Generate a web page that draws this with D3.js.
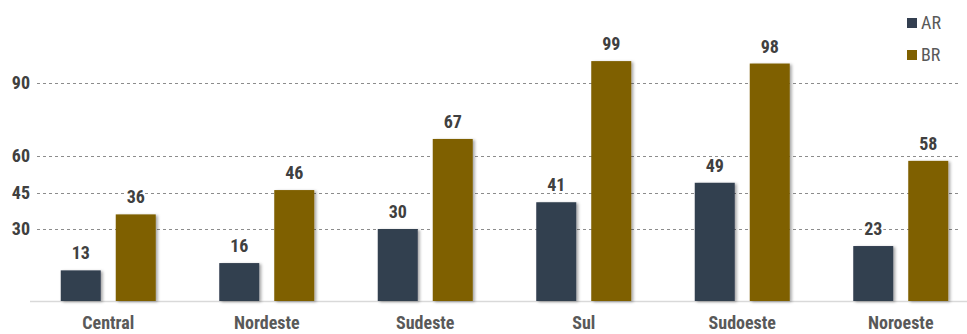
<!DOCTYPE html>
<html><head><meta charset="utf-8">
<script src="https://cdn.jsdelivr.net/npm/d3@7"></script>
<style>
body{margin:0;background:#fff;}
text{font-family:"Liberation Sans Narrow","Roboto Condensed","Arial Narrow","DejaVu Sans Condensed",sans-serif;}
</style></head>
<body><svg id="c" width="967" height="334"></svg>
<script>
const categories = ["Central","Nordeste","Sudeste","Sul","Sudoeste","Noroeste"];
const seriesNames = ["AR","BR"];
const arValues = [13,16,30,41,49,23];
const brValues = [36,46,67,99,98,58];
const yTicks = [30,45,60,90];
const colors = {AR:"#333f50", BR:"#7f6000"};

const svg = d3.select("#c");
const defs = svg.append("defs");
const f = defs.append("filter").attr("id","sh").attr("x","-20%").attr("y","-20%").attr("width","150%").attr("height","150%");
f.append("feDropShadow").attr("dx",2).attr("dy",1).attr("stdDeviation",1.5).attr("flood-color","#000").attr("flood-opacity",0.35);

const x = d3.scaleBand().domain(categories).range([29,980]).paddingInner(0).paddingOuter(0);
const sub = d3.scaleBand().domain(seriesNames).range([x.bandwidth()/2-47.5, x.bandwidth()/2+47.5]).paddingInner(15/55).paddingOuter(0);
const y = d3.scaleLinear().domain([0,30]).range([302,229]);

// gridlines
svg.append("g").selectAll("line").data(yTicks).join("line")
  .attr("x1",37).attr("x2",960).attr("y1",d=>Math.round(y(d))+0.5).attr("y2",d=>Math.round(y(d))+0.5)
  .attr("stroke","#8c8c8c").attr("stroke-width",1).attr("stroke-dasharray","3,3");
svg.append("g").selectAll("text").data(yTicks).join("text")
  .attr("x",30).attr("y",d=>y(d)).attr("dy","0.35em").attr("text-anchor","end")
  .attr("font-size",18).attr("font-weight","bold").attr("fill","#404040").text(d=>d);

// baseline
svg.append("line").attr("x1",30).attr("x2",967).attr("y1",301.5).attr("y2",301.5)
  .attr("stroke","#d9d9d9").attr("stroke-width",1.5);

const data = categories.map((c,i)=>({cat:c, vals:[{k:"AR",v:arValues[i]},{k:"BR",v:brValues[i]}]}));
const g = svg.append("g").selectAll("g").data(data).join("g").attr("transform",d=>`translate(${x(d.cat)},0)`);
g.selectAll("rect").data(d=>d.vals).join("rect")
  .attr("x",d=>sub(d.k)).attr("width",sub.bandwidth())
  .attr("y",d=>y(d.v)).attr("height",d=>y(0)-1-y(d.v))
  .attr("fill",d=>colors[d.k]).attr("filter","url(#sh)");
g.selectAll("text").data(d=>d.vals).join("text")
  .attr("x",d=>sub(d.k)+sub.bandwidth()/2).attr("y",d=>y(d.v)-11)
  .attr("text-anchor","middle").attr("font-size",18).attr("font-weight","bold").attr("fill","#404040")
  .attr("stroke","#fff").attr("stroke-width",4).attr("paint-order","stroke")
  .text(d=>d.v);

// x labels
svg.append("g").selectAll("text").data(categories).join("text")
  .attr("x",d=>x(d)+x.bandwidth()/2).attr("y",323).attr("dy","0.35em").attr("text-anchor","middle")
  .attr("font-size",18).attr("font-weight","bold").attr("fill","#595959").text(d=>d);

// legend
const lg = svg.append("g").selectAll("g").data(seriesNames).join("g")
  .attr("transform",(d,i)=>`translate(907,${18+i*32})`);
lg.append("rect").attr("width",10).attr("height",10).attr("fill",d=>colors[d]);
lg.append("text").attr("x",14).attr("y",5).attr("dy","0.35em").attr("font-size",18).attr("fill","#595959").text(d=>d);
</script></body></html>
